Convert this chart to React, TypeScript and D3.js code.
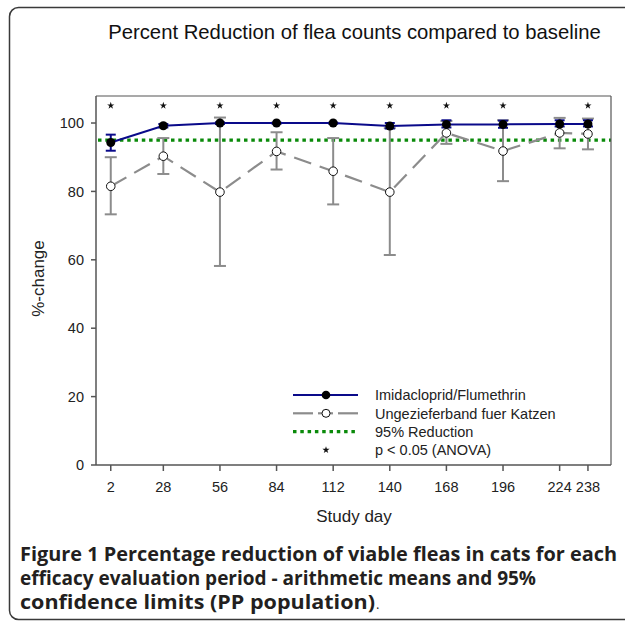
import React from "react";
import * as d3 from "d3";

const days = [2, 28, 56, 84, 112, 140, 168, 196, 224, 238];
const imidMean = [94.3, 99.2, 100.0, 100.0, 100.0, 99.1, 99.6, 99.6, 99.7, 99.7];
const imidLow = [91.9, 98.7, 99.7, 99.8, 99.8, 98.4, 98.7, 98.6, 99.0, 99.0];
const imidHigh = [96.6, 99.7, 100.2, 100.1, 100.1, 100.0, 100.8, 100.7, 100.8, 100.8];
const ungMean = [81.5, 90.3, 79.8, 91.7, 85.9, 79.8, 97.1, 91.8, 97.1, 96.8];
const ungLow = [73.3, 85.1, 58.2, 86.4, 76.2, 61.4, 93.9, 83.0, 92.6, 92.3];
const ungHigh = [90.0, 95.6, 101.6, 97.3, 95.6, 98.5, 100.6, 100.8, 101.5, 101.3];
const sigDays = [2, 28, 56, 84, 112, 140, 168, 196, 238];
const sigLevel = 105.1;
const threshold = 95;
const yTicks = [0, 20, 40, 60, 80, 100];
const legendLabels = [
  "Imidacloprid/Flumethrin",
  "Ungezieferband fuer Katzen",
  "95% Reduction",
  "p < 0.05 (ANOVA)",
];
const title = "Percent Reduction of flea counts compared to baseline";
const captionLines = [
  "Figure 1 Percentage reduction of viable fleas in cats for each",
  "efficacy evaluation period - arithmetic means and 95%",
  "confidence limits (PP population)",
];
const captionWidths = [597, 516, 355];

const W = 625;
const H = 623;
const plot = { left: 96, right: 611, top: 96, bottom: 465 };

const NAVY = "#0a0a8a";
const GRAY = "#8c8c8c";
const GREEN = "#0a8a0a";
const AXIS = "#555";
const FONT = "Arial, 'Liberation Sans', sans-serif";

export default function App() {
  const x = d3.scaleLinear().domain([-5.3, 249.4]).range([plot.left, plot.right]);
  const y = d3.scaleLinear().domain([0, 107.9]).range([plot.bottom, plot.top]);

  const line = d3
    .line<number>()
    .x((_, i) => x(days[i]))
    .y((v) => y(v));

  const star = d3.symbol().type(d3.symbolStar).size(16)();

  const capW = 6;
  const legendX0 = 293;
  const legendX1 = 358;
  const legendMid = 326;
  const legendTextX = 375;
  const legendYs = [395, 413.3, 431.7, 450];

  return (
    <svg
      width={W}
      height={H}
      style={{ position: "absolute", left: 0, top: 0, background: "#fff" }}
      fontFamily={FONT}
    >
      {/* outer frame */}
      <rect x={9.5} y={7.5} width={700} height={612} rx={9} fill="none" stroke="#3a3a3a" strokeWidth={1.5} />

      {/* title */}
      <text x={354.5} y={39} textAnchor="middle" fontSize={20.3} fill="#111">
        {title}
      </text>

      {/* threshold line */}
      <line
        x1={plot.left + 2}
        x2={plot.right}
        y1={y(threshold)}
        y2={y(threshold)}
        stroke={GREEN}
        strokeWidth={3.2}
        strokeDasharray="3.5 3.8"
      />

      {/* Ungeziefer error bars */}
      {days.map((d, i) => (
        <g key={"ue" + i} stroke={GRAY} strokeWidth={2}>
          <line x1={x(d)} x2={x(d)} y1={y(ungLow[i])} y2={y(ungHigh[i])} />
          <line x1={x(d) - capW} x2={x(d) + capW} y1={y(ungLow[i])} y2={y(ungLow[i])} />
          <line x1={x(d) - capW} x2={x(d) + capW} y1={y(ungHigh[i])} y2={y(ungHigh[i])} />
        </g>
      ))}
      {/* Ungeziefer dashed line */}
      <path d={line(ungMean) || ""} fill="none" stroke={GRAY} strokeWidth={2.2} strokeDasharray="18 9" />

      {/* Imidacloprid error bars */}
      {days.map((d, i) => (
        <g key={"ie" + i} stroke={NAVY} strokeWidth={2}>
          <line x1={x(d)} x2={x(d)} y1={y(imidLow[i])} y2={y(imidHigh[i])} />
          <line x1={x(d) - 5} x2={x(d) + 5} y1={y(imidLow[i])} y2={y(imidLow[i])} />
          <line x1={x(d) - 5} x2={x(d) + 5} y1={y(imidHigh[i])} y2={y(imidHigh[i])} />
        </g>
      ))}
      {/* Imidacloprid line */}
      <path d={line(imidMean) || ""} fill="none" stroke={NAVY} strokeWidth={2} />

      {/* Ungeziefer markers */}
      {days.map((d, i) => (
        <circle key={"uc" + i} cx={x(d)} cy={y(ungMean[i])} r={4.3} fill="#fff" stroke="#111" strokeWidth={1} />
      ))}
      {/* Imidacloprid markers */}
      {days.map((d, i) => (
        <circle key={"ic" + i} cx={x(d)} cy={y(imidMean[i])} r={4.5} fill="#000" />
      ))}

      {/* significance stars */}
      {sigDays.map((d) => (
        <path key={"s" + d} d={star || ""} transform={`translate(${x(d)},${y(sigLevel)})`} fill="#111" />
      ))}

      {/* plot box */}
      <line x1={plot.left} x2={plot.right} y1={plot.top} y2={plot.top} stroke={AXIS} strokeWidth={1.2} />
      <line x1={plot.right} x2={plot.right} y1={plot.top} y2={plot.bottom} stroke={AXIS} strokeWidth={1.2} />
      <line x1={plot.left} x2={plot.left} y1={plot.top} y2={plot.bottom} stroke={AXIS} strokeWidth={1.5} />
      <line x1={plot.left} x2={plot.right} y1={plot.bottom} y2={plot.bottom} stroke={AXIS} strokeWidth={1.5} />

      {/* y axis ticks */}
      {yTicks.map((t) => (
        <g key={"yt" + t}>
          <line x1={plot.left - 5} x2={plot.left} y1={y(t)} y2={y(t)} stroke={AXIS} strokeWidth={1.5} />
          <text x={84} y={y(t)} dy="0.36em" textAnchor="end" fontSize={14.5} fill="#222">
            {t}
          </text>
        </g>
      ))}
      {/* x axis ticks */}
      {days.map((d) => (
        <g key={"xt" + d}>
          <line x1={x(d)} x2={x(d)} y1={plot.bottom} y2={plot.bottom + 6} stroke={AXIS} strokeWidth={1.5} />
          <text x={x(d)} y={491.5} textAnchor="middle" fontSize={14.5} fill="#222">
            {d}
          </text>
        </g>
      ))}

      {/* axis titles */}
      <text x={354} y={522} textAnchor="middle" fontSize={17} fill="#222">
        Study day
      </text>
      <text
        transform={`translate(44,${(plot.top + plot.bottom) / 2 - 2}) rotate(-90)`}
        textAnchor="middle"
        fontSize={17}
        fill="#222"
      >
        %-change
      </text>

      {/* legend */}
      <g>
        <line x1={legendX0} x2={legendX1} y1={legendYs[0]} y2={legendYs[0]} stroke={NAVY} strokeWidth={2} />
        <circle cx={legendMid} cy={legendYs[0]} r={4.3} fill="#000" />
        <line x1={legendX0} x2={legendX0 + 20} y1={legendYs[1]} y2={legendYs[1]} stroke={GRAY} strokeWidth={2.2} />
        <line x1={legendX0 + 25} x2={legendX1 - 25} y1={legendYs[1]} y2={legendYs[1]} stroke={GRAY} strokeWidth={2.2} />
        <line x1={legendX1 - 20} x2={legendX1} y1={legendYs[1]} y2={legendYs[1]} stroke={GRAY} strokeWidth={2.2} />
        <circle cx={legendMid} cy={legendYs[1]} r={4} fill="#fff" stroke="#111" strokeWidth={1} />
        <line
          x1={legendX0}
          x2={legendX1}
          y1={legendYs[2]}
          y2={legendYs[2]}
          stroke={GREEN}
          strokeWidth={3.2}
          strokeDasharray="3.5 3.8"
        />
        <path d={star || ""} transform={`translate(${legendMid},${legendYs[3]})`} fill="#111" />
        {legendLabels.map((l, i) => (
          <text key={l} x={legendTextX} y={legendYs[i]} dy="0.36em" fontSize={14.5} fill="#222">
            {l}
          </text>
        ))}
      </g>

      {/* caption */}
      {captionLines.map((c, i) => (
        <text
          key={"cap" + i}
          x={20}
          y={561 + i * 24}
          fontSize={19}
          fontWeight="bold"
          fontFamily="'Open Sans', 'Noto Sans', sans-serif"
          fill="#231f20"
          textLength={captionWidths[i]}
          lengthAdjust="spacingAndGlyphs"
        >
          {c}
        </text>
      ))}
      <text x={20 + captionWidths[2] + 1} y={561 + 2 * 24} fontSize={13} fontFamily="'Open Sans', 'Noto Sans', sans-serif" fill="#231f20">
        .
      </text>
    </svg>
  );
}
